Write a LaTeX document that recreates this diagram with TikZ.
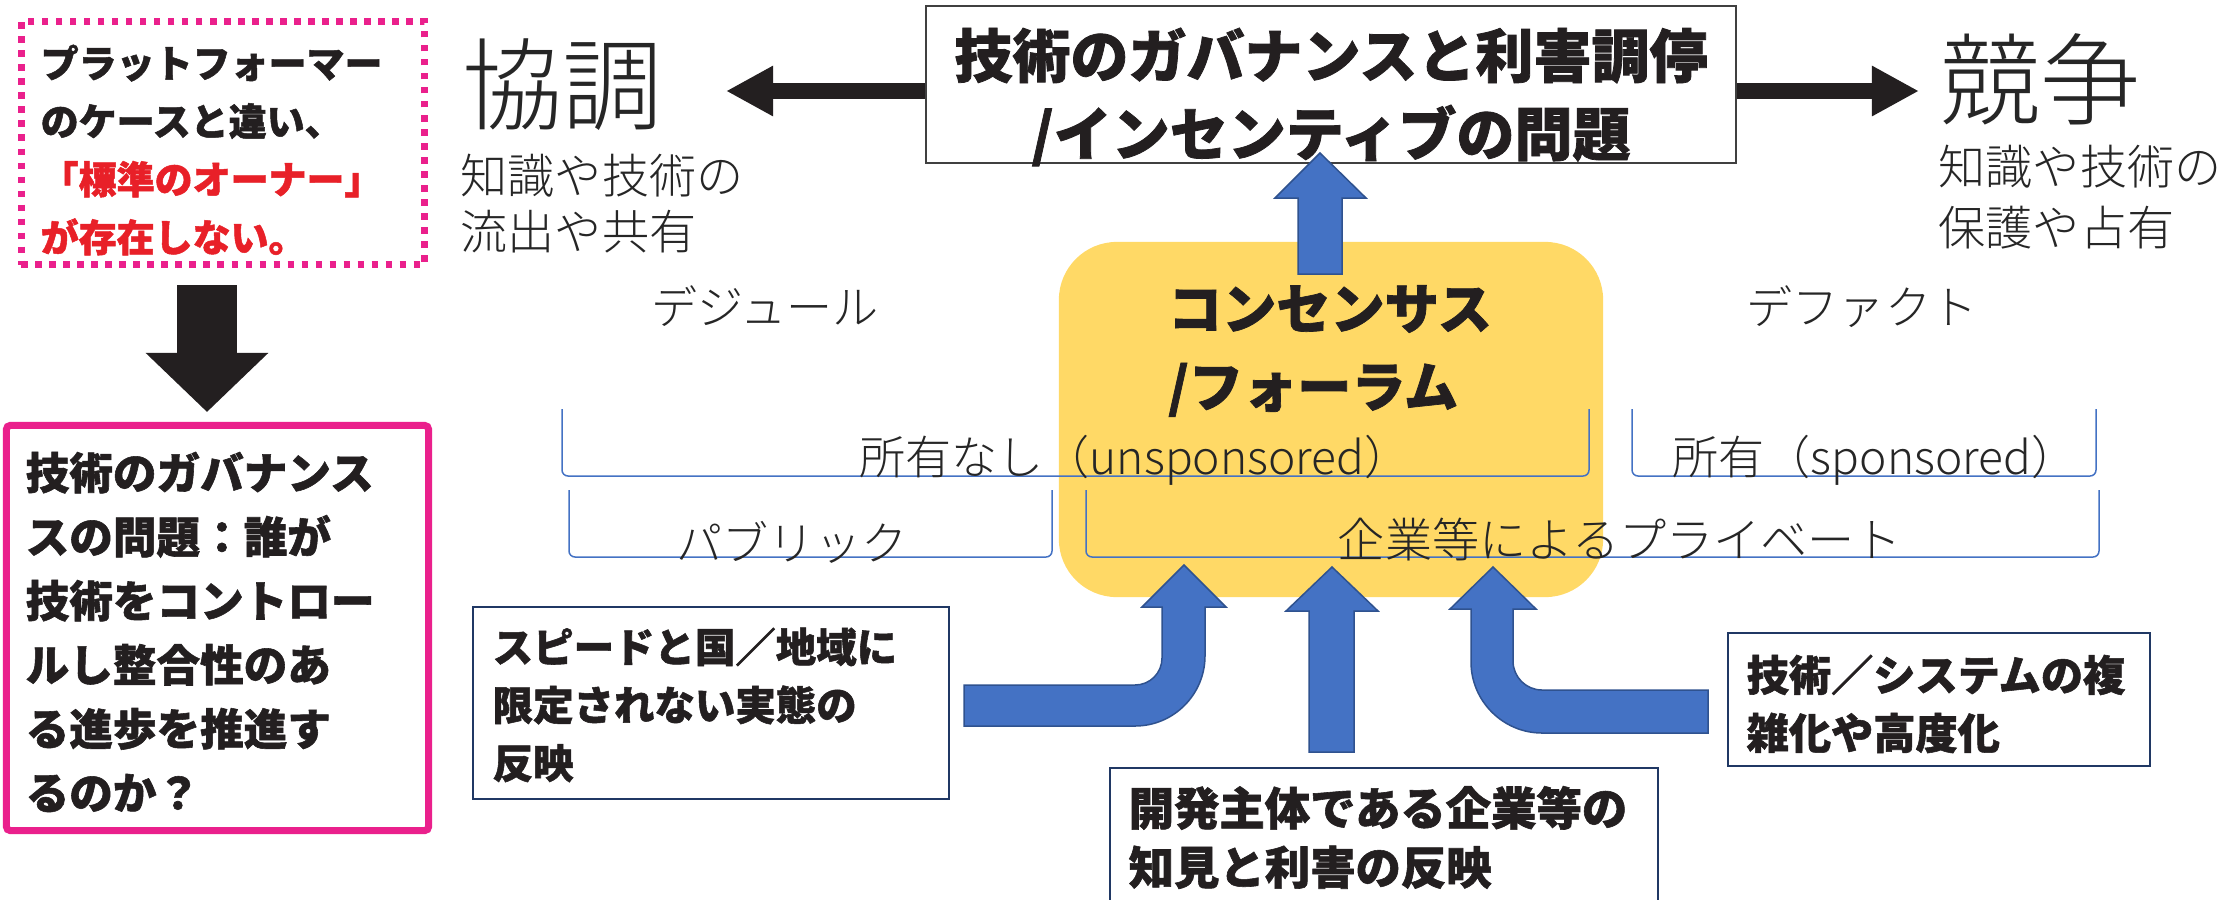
\documentclass[tikz,border=0pt]{standalone}
\usepackage{fontspec}
\usetikzlibrary{arrows.meta}
\setmainfont{Noto Sans CJK JP}[BoldFeatures={FakeBold=1.3}]
\IfFontExistsTF{Noto Sans CJK JP Light}
  {\newfontfamily\thinfont{Noto Sans CJK JP Light}}
  {\IfFontExistsTF{Noto Sans CJK JP DemiLight}
    {\newfontfamily\thinfont{Noto Sans CJK JP DemiLight}}
    {\newfontfamily\thinfont{Noto Sans CJK JP}}}
\newcommand\fsz[2]{\fontsize{#1}{#2}\selectfont}
\definecolor{pinkc}{RGB}{234,32,140}
\definecolor{redc}{RGB}{232,32,40}
\definecolor{ink}{RGB}{35,31,32}
\definecolor{yel}{RGB}{255,217,102}
\definecolor{ablue}{RGB}{68,114,196}
\definecolor{aedge}{RGB}{47,82,143}
\definecolor{navy}{RGB}{32,56,100}
\definecolor{grayline}{RGB}{64,64,64}
\definecolor{thinink}{RGB}{38,38,38}
\definecolor{brkblue}{RGB}{68,114,196}
\begin{document}
\begin{tikzpicture}[x=0.01cm,y=-0.01cm,
  txt/.style={inner sep=0pt, text=ink},
  boldtxt/.style={txt, align=left},
  thintxt/.style={inner sep=0pt, text=thinink},
  navybox/.style={draw=navy, line width=0.02cm, fill=white, inner sep=0pt},
  blockarrow/.style={fill=ablue, draw=aedge, line width=0.015cm, line join=miter},
  blackarrow/.style={draw=ink, line width=0.16cm, -{Triangle[length=0.47cm,width=0.47cm]}},
  brk/.style={draw=brkblue, line width=0.015cm, rounded corners=0.06cm}]
\useasboundingbox (0,0) rectangle (2239,899);
\fill[white] (0,0) rectangle (2239,899);

% yellow consensus box
\node[fill=yel, rounded corners=0.58cm, minimum width=5.44cm, minimum height=3.55cm, inner sep=0pt] (cons) at (1331,419.5) {};
\node[boldtxt, font=\fsz{15.4pt}{22.2pt}\bfseries] (constext) at (1330,351) {コンセンサス\\/フォーラム};

% left dotted box
\node[draw=pinkc, line width=0.07cm, dash pattern=on 0.065cm off 0.075cm, minimum width=4.03cm, minimum height=2.43cm, inner sep=0pt] (dotbox) at (223,143) {};
\node[boldtxt, anchor=west, font=\fsz{10.8pt}{16.5pt}\bfseries] (dottext) at (40,150)
  {プラットフォーマー\\のケースと違い、\\{\color{redc}「標準のオーナー」}\\{\color{redc}が存在しない。}};

% pink solid box
\node[draw=pinkc, line width=0.07cm, rounded corners=0.04cm, minimum width=4.22cm, minimum height=4.05cm, inner sep=0pt] (pinkbox) at (217.5,628) {};
\node[boldtxt, anchor=west, font=\fsz{12.4pt}{18.2pt}\bfseries] (pinktext) at (25,632)
  {技術のガバナンス\\スの問題：誰が\\技術をコントロー\\ルし整合性のあ\\る進歩を推進す\\るのか？};

% black down arrow
\coordinate (dtop) at (207,285);
\coordinate (dtip) at (207,412);
\draw[draw=ink, line width=0.59cm, -{Triangle[length=0.59cm,width=1.19cm]}] (dtop) -- (dtip);

% top governance box
\node[draw=grayline, line width=0.02cm, fill=white, minimum width=8.10cm, minimum height=1.57cm, inner sep=0pt] (gov) at (1331,84.5) {};
\node[txt, align=center, font=\fsz{16.5pt}{22.2pt}\bfseries] (govtext) at (1331,97) {技術のガバナンスと利害調停\\/インセンティブの問題};

% left / right black arrows
\coordinate (kyoL) at (726,91);
\coordinate (kyoR) at (1919,91);
\draw[blackarrow] (gov.west |- kyoL) -- (kyoL);
\draw[blackarrow] (gov.east |- kyoR) -- (kyoR);

% kyocho / kyoso
\node[thintxt, anchor=west, font=\thinfont\fsz{28.5pt}{30pt}] (kyocho) at (462,85) {協調};
\node[thintxt, anchor=west, align=left, font=\thinfont\fsz{13.4pt}{15.9pt}] (kyochosub) at (460,204) {知識や技術の\\流出や共有};
\node[thintxt, anchor=west, font=\thinfont\fsz{28.5pt}{30pt}] (kyoso) at (1940,79) {競争};
\node[thintxt, anchor=west, align=left, font=\thinfont\fsz{13.4pt}{17.4pt}] (kyososub) at (1938,197.5) {知識や技術の\\保護や占有};

% de jure / de facto
\node[thintxt, font=\thinfont\fsz{13.1pt}{15pt}] (dejure) at (765,306) {デジュール};
\node[thintxt, font=\thinfont\fsz{13.1pt}{15pt}] (defacto) at (1862,307) {デファクト};

% brackets
\draw[brk] (562,409) -- (562,476) -- (1589,476) -- (1589,409);
\draw[brk] (1632,409) -- (1632,476) -- (2096,476) -- (2096,409);
\draw[brk] (569,490) -- (569,557) -- (1052,557) -- (1052,490);
\draw[brk] (1086,490) -- (1086,557) -- (2099,557) -- (2099,490);
\node[thintxt, font=\thinfont\fsz{13.1pt}{15pt}] (unspons) at (1135,460) {所有なし（unsponsored）};
\node[thintxt, font=\thinfont\fsz{13.1pt}{15pt}] (spons) at (1875,460) {所有（sponsored）};
\node[thintxt, font=\thinfont\fsz{13.1pt}{15pt}] (public) at (792,542) {パブリック};
\node[thintxt, font=\thinfont\fsz{13.4pt}{15pt}] (private) at (1620,540) {企業等によるプライベート};

% bottom boxes
\node[navybox, minimum width=4.76cm, minimum height=1.92cm] (leftbox) at (711,703) {};
\node[boldtxt, anchor=west, font=\fsz{11.5pt}{16.5pt}\bfseries] (lefttext) at (492,705)
  {スピードと国／地域に\\限定されない実態の\\反映};
\node[navybox, minimum width=4.22cm, minimum height=1.33cm] (rightbox) at (1939,699.5) {};
\node[boldtxt, anchor=west, font=\fsz{12pt}{16.5pt}\bfseries] (righttext) at (1746,704)
  {技術／システムの複\\雑化や高度化};
\node[navybox, minimum width=5.48cm, minimum height=1.41cm] (midbox) at (1384,838.5) {};
\node[boldtxt, anchor=west, font=\fsz{12.9pt}{16.8pt}\bfseries] (midtext) at (1128,837.5)
  {開発主体である企業等の\\知見と利害の反映};

% blue block arrows
\path[blockarrow] (1298,274) -- (1298,198) -- (1275,198) -- (1320,153) -- (1366,198) -- (1342,198) -- (1342,274) -- cycle;
\path[blockarrow] (1309,752) -- (1309,611) -- (1286,611) -- (1332,567) -- (1378,611) -- (1354,611) -- (1354,752) -- cycle;
\path[blockarrow] (964,685) -- (1135,685) .. controls (1150,685) and (1162,673) .. (1162,658)
  -- (1162,607) -- (1142,607) -- (1184,565) -- (1226,607) -- (1205,607) -- (1205,656)
  .. controls (1205,694) and (1174,726) .. (1135,726) -- (964,726) -- cycle;
\path[blockarrow] (1708,690) -- (1542,690) .. controls (1526,690) and (1513,677) .. (1513,661)
  -- (1513,609) -- (1536,609) -- (1493,567) -- (1450,609) -- (1471,609) -- (1471,662)
  .. controls (1471,701) and (1503,733) .. (1542,733) -- (1708,733) -- cycle;
\end{tikzpicture}
\end{document}
